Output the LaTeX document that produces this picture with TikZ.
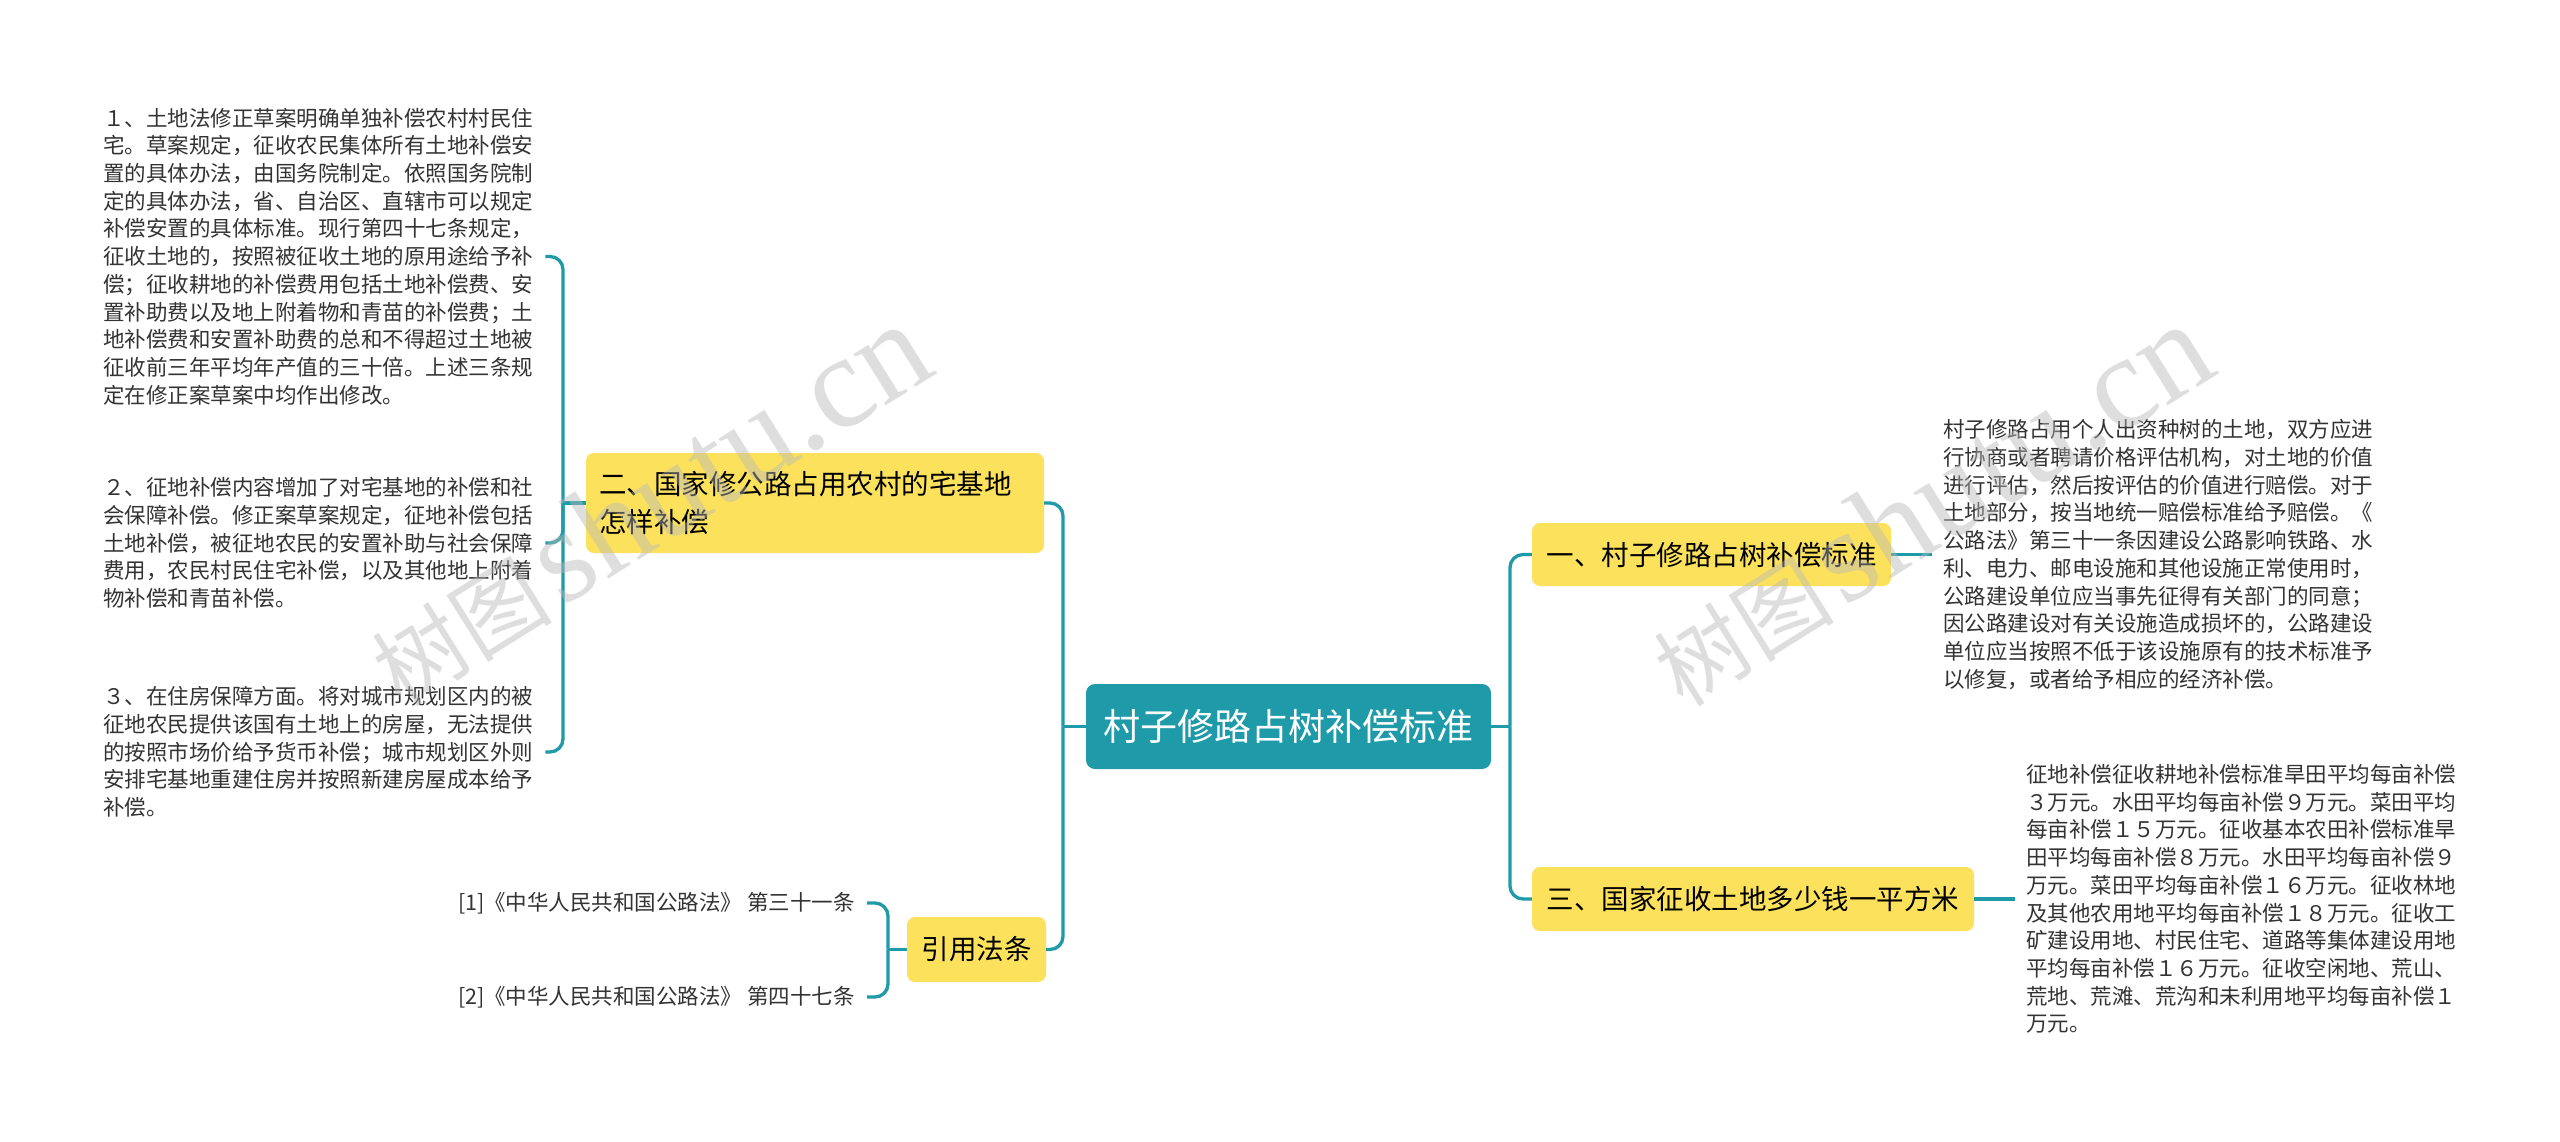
\documentclass[tikz,border=0pt]{standalone}
\usepackage{fontspec}
\setmainfont{Noto Sans CJK SC}
\newfontfamily\wmlatin{Liberation Serif}
\definecolor{teal1}{HTML}{1E9AA8}
\definecolor{yel}{HTML}{FCE25C}
\definecolor{txt}{HTML}{333333}
\definecolor{wmgray}{HTML}{B8B8B8}
\begin{document}
\begin{tikzpicture}[x=1pt,y=-1pt,
  conn/.style={draw=teal1, line width=3.3pt, rounded corners=13pt},
  root/.style={fill=teal1, rounded corners=9pt, text=white, font=\fontsize{37}{44}\selectfont, minimum width=405pt, minimum height=85pt, inner sep=0pt},
  topic/.style={fill=yel, rounded corners=8pt, text=black, font=\fontsize{27.5}{38}\selectfont, inner sep=0pt},
  leaf/.style={text=txt, font=\fontsize{21.5}{27.7}\selectfont, align=left, inner xsep=12pt, inner ysep=0pt},
  reftext/.style={text=txt, font=\fontsize{21.5}{27.7}\selectfont, inner xsep=12pt, inner ysep=0pt},
  wm/.style={text=wmgray, opacity=0.45, rotate=32, inner sep=0pt}
]
\useasboundingbox[fill=white] (0,0) rectangle (2560,1141);

% central
\node[root] (center) at (1288.5,726.5) {村子修路占树补偿标准};

% topics
\node[topic, text width=432pt, inner xsep=13pt, minimum height=100pt, align=left] (n2) at (815,503) {二、国家修公路占用农村的宅基地\\怎样补偿};
\node[topic, minimum width=139pt, minimum height=65pt] (cite) at (976.5,949.5) {引用法条};
\node[topic, minimum width=359pt, minimum height=63pt] (n1) at (1711.5,554.5) {一、村子修路占树补偿标准};
\node[topic, minimum width=442pt, minimum height=64pt] (n3) at (1753,899) {三、国家征收土地多少钱一平方米};

% left leaves
\node[leaf, anchor=west] (t1) at (91,256.5) {１、土地法修正草案明确单独补偿农村村民住\\
宅。草案规定，征收农民集体所有土地补偿安\\
置的具体办法，由国务院制定。依照国务院制\\
定的具体办法，省、自治区、直辖市可以规定\\
补偿安置的具体标准。现行第四十七条规定，\\
征收土地的，按照被征收土地的原用途给予补\\
偿；征收耕地的补偿费用包括土地补偿费、安\\
置补助费以及地上附着物和青苗的补偿费；土\\
地补偿费和安置补助费的总和不得超过土地被\\
征收前三年平均年产值的三十倍。上述三条规\\
定在修正案草案中均作出修改。};

\node[leaf, anchor=west] (t2) at (91,543) {２、征地补偿内容增加了对宅基地的补偿和社\\
会保障补偿。修正案草案规定，征地补偿包括\\
土地补偿，被征地农民的安置补助与社会保障\\
费用，农民村民住宅补偿，以及其他地上附着\\
物补偿和青苗补偿。};

\node[leaf, anchor=west] (t3) at (91,752) {３、在住房保障方面。将对城市规划区内的被\\
征地农民提供该国有土地上的房屋，无法提供\\
的按照市场价给予货币补偿；城市规划区外则\\
安排宅基地重建住房并按照新建房屋成本给予\\
补偿。};

% references
\node[reftext, anchor=east] (r1) at (867,903) {[1]《中华人民共和国公路法》 第三十一条};
\node[reftext, anchor=east] (r2) at (867,997) {[2]《中华人民共和国公路法》 第四十七条};

% right leaves
\node[leaf, anchor=west, inner xsep=11pt] (R1) at (1932,554.5) {村子修路占用个人出资种树的土地，双方应进\\
行协商或者聘请价格评估机构，对土地的价值\\
进行评估，然后按评估的价值进行赔偿。对于\\
土地部分，按当地统一赔偿标准给予赔偿。《\\
公路法》第三十一条因建设公路影响铁路、水\\
利、电力、邮电设施和其他设施正常使用时，\\
公路建设单位应当事先征得有关部门的同意；\\
因公路建设对有关设施造成损坏的，公路建设\\
单位应当按照不低于该设施原有的技术标准予\\
以修复，或者给予相应的经济补偿。};

\node[leaf, anchor=west, inner xsep=11pt] (R2) at (2015,899) {征地补偿征收耕地补偿标准旱田平均每亩补偿\\
３万元。水田平均每亩补偿９万元。菜田平均\\
每亩补偿１５万元。征收基本农田补偿标准旱\\
田平均每亩补偿８万元。水田平均每亩补偿９\\
万元。菜田平均每亩补偿１６万元。征收林地\\
及其他农用地平均每亩补偿１８万元。征收工\\
矿建设用地、村民住宅、道路等集体建设用地\\
平均每亩补偿１６万元。征收空闲地、荒山、\\
荒地、荒滩、荒沟和未利用地平均每亩补偿１\\
万元。};

% junctions
\coordinate (jL) at (1063,726.5);
\coordinate (jR) at (1510,726.5);
\coordinate (j2) at (563,503);
\coordinate (jc) at (888,949.5);

% connectors
\draw[conn] (center.west) -- (jL);
\draw[conn] (jL) |- (n2.east);
\draw[conn] (jL) |- (cite.east);
\draw[conn] (center.east) -- (jR);
\draw[conn] (jR) |- (n1.west);
\draw[conn] (jR) |- (n3.west);
\draw[conn] (n2.west) -- (j2);
\draw[conn] (j2) |- (t1.east);
\draw[conn] (j2) |- (t2.east);
\draw[conn] (j2) |- (t3.east);
\draw[conn] (cite.west) -- (jc);
\draw[conn] (jc) |- (r1.east);
\draw[conn] (jc) |- (r2.east);
\draw[conn] (n1.east) -- (R1.west);
\draw[conn] (n3.east) -- (R2.west);

% watermarks
\node[wm] (wm1) at (648,505) {\fontsize{90}{94}\selectfont 树图\hspace{10pt}{\wmlatin\fontsize{132}{136}\selectfont shutu.cn}};
\node[wm] (wm2) at (1930,505) {\fontsize{90}{94}\selectfont 树图\hspace{10pt}{\wmlatin\fontsize{132}{136}\selectfont shutu.cn}};
\end{tikzpicture}
\end{document}
